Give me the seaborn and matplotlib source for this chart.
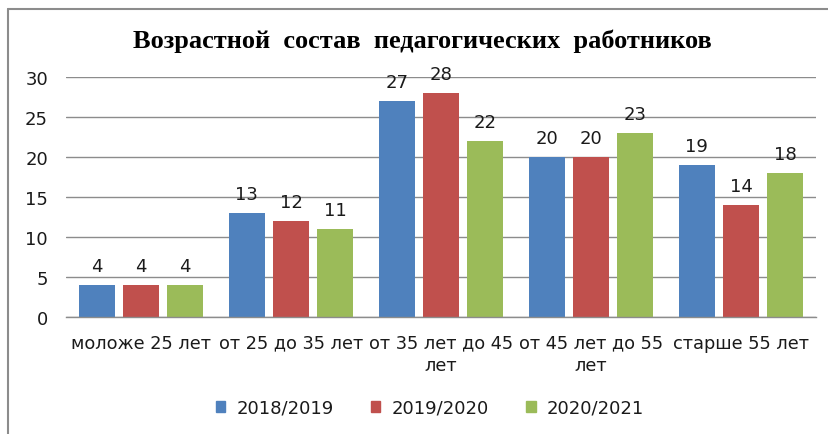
import matplotlib
matplotlib.use("Agg")
import matplotlib.pyplot as plt
import seaborn as sns
import pandas as pd
from matplotlib.lines import Line2D

categories = ["моложе 25 лет", "от 25 до 35 лет", "от 35 лет до 45\nлет",
              "от 45 лет до 55\nлет", "старше 55 лет"]
years = ["2018/2019", "2019/2020", "2020/2021"]
v2018 = [4, 13, 27, 20, 19]
v2019 = [4, 12, 28, 20, 14]
v2020 = [4, 11, 22, 23, 18]
colors = ["#4F81BD", "#C0504D", "#9BBB59"]
title = "Возрастной  состав  педагогических  работников"

rows = []
for yr, vals in zip(years, [v2018, v2019, v2020]):
    for c, v in zip(categories, vals):
        rows.append({"cat": c, "year": yr, "val": v})
df = pd.DataFrame(rows)

sns.set_theme(style="white")
plt.rcParams['font.family'] = ['DejaVu Sans']

W, H = 829, 435
fig = plt.figure(figsize=(W / 100, H / 100), dpi=100)
ax = fig.add_axes([66 / W, 1 - 318 / H, (816 - 66) / W, (318 - 78) / H])

sns.barplot(data=df, x="cat", y="val", hue="year", palette=colors,
            order=categories, hue_order=years, width=0.885, gap=0.18,
            saturation=1, edgecolor="none", ax=ax)

for cont in ax.containers:
    ax.bar_label(cont, padding=7, fontsize=13, color="#1a1a1a")

ax.set_ylim(0, 30)
ax.set_yticks(range(0, 31, 5))
ax.set_xlim(-0.5, len(categories) - 0.5)
ax.yaxis.grid(True, color="#8c8c8c", linewidth=1)
ax.set_axisbelow(True)
for s in ["top", "right", "left"]:
    ax.spines[s].set_visible(False)
ax.spines["bottom"].set_color("#8c8c8c")
ax.spines["bottom"].set_linewidth(1)
ax.tick_params(axis="both", length=0)
ax.tick_params(axis="y", pad=13, labelsize=13, labelcolor="#1a1a1a")
ax.tick_params(axis="x", pad=12)
for lab in ax.get_xticklabels():
    lab.set_fontsize(12.8)
    lab.set_color("#1a1a1a")
    lab.set_linespacing(1.3)
ax.set_xlabel("")
ax.set_ylabel("")

handles = [plt.Rectangle((0, 0), 1, 1, color=c) for c in colors]
ax.legend_.remove()
fig.legend(handles, years, loc="center", bbox_to_anchor=(430 / W, 1 - 409 / H),
           ncol=3, frameon=False, fontsize=13, handlelength=0.5, handleheight=0.5,
           handletextpad=0.6, columnspacing=2.1, labelcolor="#1a1a1a")

fig.text(422 / W, 1 - 41 / H, title, ha="center", va="center", color="black",
         fontfamily=['Liberation Serif', 'DejaVu Serif'], fontweight="bold", fontsize=19)

fig.add_artist(Line2D([8 / W, 8 / W], [0, 1 - 10 / H], transform=fig.transFigure,
                      color="#8c8c8c", linewidth=1.5))
fig.add_artist(Line2D([8 / W, 1], [1 - 10 / H, 1 - 10 / H], transform=fig.transFigure,
                      color="#8c8c8c", linewidth=1.5))

fig.savefig("out.png", dpi=100)
